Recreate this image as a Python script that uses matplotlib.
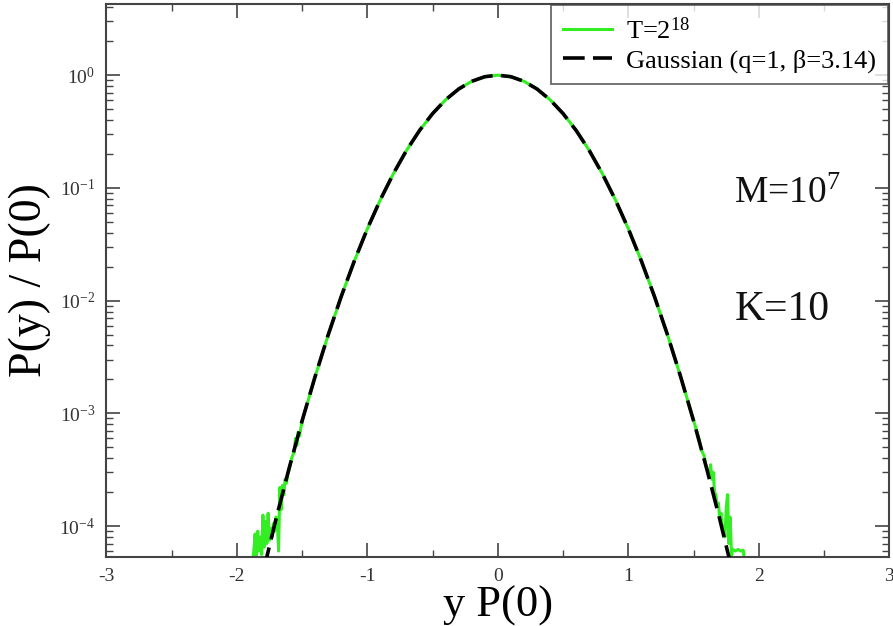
import numpy as np
import matplotlib
matplotlib.use("Agg")
import matplotlib.pyplot as plt
from matplotlib.ticker import MultipleLocator, LogLocator, LogFormatterSciNotation, NullFormatter, FixedLocator

plt.rcParams['font.family'] = ['Liberation Serif', 'DejaVu Serif']
plt.rcParams['mathtext.fontset'] = 'custom'
plt.rcParams['mathtext.rm'] = 'Liberation Serif'
plt.rcParams['mathtext.it'] = 'Liberation Serif:italic'
plt.rcParams['mathtext.default'] = 'regular'
plt.rcParams['axes.unicode_minus'] = False

# Gaussian reference curve (q=1, beta=3.14)
gauss_x = [-1.9, -1.8, -1.7, -1.6, -1.5, -1.4, -1.3, -1.2, -1.1, -1.0,
           -0.9, -0.8, -0.7, -0.6, -0.5, -0.4, -0.3, -0.2, -0.1, 0.0,
           0.1, 0.2, 0.3, 0.4, 0.5, 0.6, 0.7, 0.8, 0.9, 1.0,
           1.1, 1.2, 1.3, 1.4, 1.5, 1.6, 1.7, 1.8, 1.9]
gauss_y = [1.19e-5, 3.82e-5, 1.15e-4, 3.23e-4, 8.55e-4, 2.12e-3, 4.96e-3, 1.087e-2, 2.24e-2, 4.33e-2,
           7.86e-2, 0.134, 0.215, 0.323, 0.456, 0.605, 0.754, 0.882, 0.969, 1.0,
           0.969, 0.882, 0.754, 0.605, 0.456, 0.323, 0.215, 0.134, 7.86e-2, 4.33e-2,
           2.24e-2, 1.087e-2, 4.96e-3, 2.12e-3, 8.55e-4, 3.23e-4, 1.15e-4, 3.82e-5, 1.19e-5]

# Simulation data T=2^18 (noisy tails)
data_x = [-1.90, -1.87, -1.86, -1.85, -1.84, -1.83, -1.82, -1.81, -1.80, -1.79,
          -1.78, -1.77, -1.76, -1.75, -1.74, -1.73, -1.72, -1.71, -1.70, -1.69,
          -1.68, -1.67, -1.66, -1.65, -1.64, -1.63, -1.62, -1.61, -1.60, -1.58,
          -1.56, -1.55, -1.54, -1.53, -1.52, -1.50, -1.4, -1.3, -1.2, -1.1,
          -1.0, -0.9, -0.8, -0.7, -0.6, -0.5, -0.4, -0.3, -0.2, -0.1,
          0.0, 0.1, 0.2, 0.3, 0.4, 0.5, 0.6, 0.7, 0.8, 0.9,
          1.0, 1.1, 1.2, 1.3, 1.4, 1.50, 1.52, 1.54, 1.56, 1.58,
          1.60, 1.62, 1.63, 1.64, 1.65, 1.66, 1.67, 1.68, 1.69, 1.70,
          1.71, 1.72, 1.73, 1.74, 1.75, 1.76, 1.77, 1.78, 1.79, 1.80,
          1.82, 1.84, 1.86, 1.88, 1.90]
data_y = [3.0e-5, 6.0e-5, 8.5e-5, 5.2e-5, 9.0e-5, 6.0e-5, 8.0e-5, 5.6e-5, 1.25e-4, 6.5e-5,
          1.1e-4, 7.0e-5, 1.3e-4, 7.5e-5, 9.5e-5, 8.0e-5, 1.05e-4, 9.0e-5, 1.2e-4, 1.15e-4,
          6.0e-5, 2.2e-4, 1.4e-4, 2.3e-4, 1.9e-4, 2.6e-4, 2.4e-4, 2.9e-4, 3.1e-4, 4.0e-4,
          4.6e-4, 6.0e-4, 5.2e-4, 6.8e-4, 6.3e-4, 8.5e-4, 2.12e-3, 4.96e-3, 1.087e-2, 2.24e-2,
          4.33e-2, 7.86e-2, 0.134, 0.215, 0.323, 0.456, 0.605, 0.754, 0.882, 0.969,
          1.0, 0.969, 0.882, 0.754, 0.605, 0.456, 0.323, 0.215, 0.134, 7.86e-2,
          4.33e-2, 2.24e-2, 1.087e-2, 4.96e-3, 2.12e-3, 8.6e-4, 7.2e-4, 6.0e-4, 4.7e-4, 4.2e-4,
          3.2e-4, 3.0e-4, 3.5e-4, 2.6e-4, 3.0e-4, 2.0e-4, 1.9e-4, 1.5e-4, 1.6e-4, 1.15e-4,
          1.3e-4, 9.5e-5, 1.0e-4, 8.0e-5, 1.5e-4, 1.9e-4, 7.0e-5, 1.2e-4, 5.5e-5, 6.2e-5,
          6.0e-5, 6.2e-5, 6.0e-5, 6.1e-5, 4.0e-5]

data_label = r'T=2$^{18}$'
gauss_label = 'Gaussian (q=1, β=3.14)'
x_ticks = [-3, -2, -1, 0, 1, 2, 3]

fig = plt.figure(figsize=(8.93, 6.26), dpi=100)
ax = fig.add_axes([0.119, 0.110, 0.877, 0.884])

ax.plot(data_x, data_y, color='#33ee22', lw=2.2, label=data_label, zorder=2)
ax.plot(gauss_x, gauss_y, color='black', lw=2.6, dashes=(6, 2.3), label=gauss_label, zorder=3)

ax.set_yscale('log')
ax.set_xlim(-3, 3)
ax.set_ylim(5.3e-5, 4.3)

ax.xaxis.set_major_locator(FixedLocator(x_ticks))
ax.xaxis.set_minor_locator(MultipleLocator(0.5))
ax.yaxis.set_major_locator(LogLocator(base=10, numticks=20))
ax.yaxis.set_minor_locator(LogLocator(base=10, subs=np.arange(2, 10), numticks=20))
ax.yaxis.set_major_formatter(LogFormatterSciNotation())
ax.yaxis.set_minor_formatter(NullFormatter())

ax.tick_params(which='both', direction='in', top=True, right=True, color='#444444', labelcolor='#333333')
ax.tick_params(which='major', length=10, width=1.2, labelsize=14, pad=8)
ax.tick_params(which='minor', length=5, width=1.0)
for s in ax.spines.values():
    s.set_color('#444444')
    s.set_linewidth(1.5)

ax.set_xlabel('y P(0)', fontsize=32, labelpad=0)
ax.set_ylabel('P(y) / P(0)', fontsize=33, labelpad=6)

ax.text(0.802, 0.640, r'M=10$^{7}$', transform=ax.transAxes, fontsize=27,
        color='#111111', va='baseline')
ax.text(0.802, 0.429, 'K=10', transform=ax.transAxes, fontsize=30,
        color='#111111', va='baseline')

leg = ax.legend(loc='upper right', fontsize=19, frameon=True, fancybox=False,
                edgecolor='#444444', handlelength=1.85, borderaxespad=0.05,
                labelspacing=0.2, handletextpad=0.55, borderpad=0.45)
leg.get_frame().set_linewidth(1.3)

fig.savefig('out.png', dpi=100)
